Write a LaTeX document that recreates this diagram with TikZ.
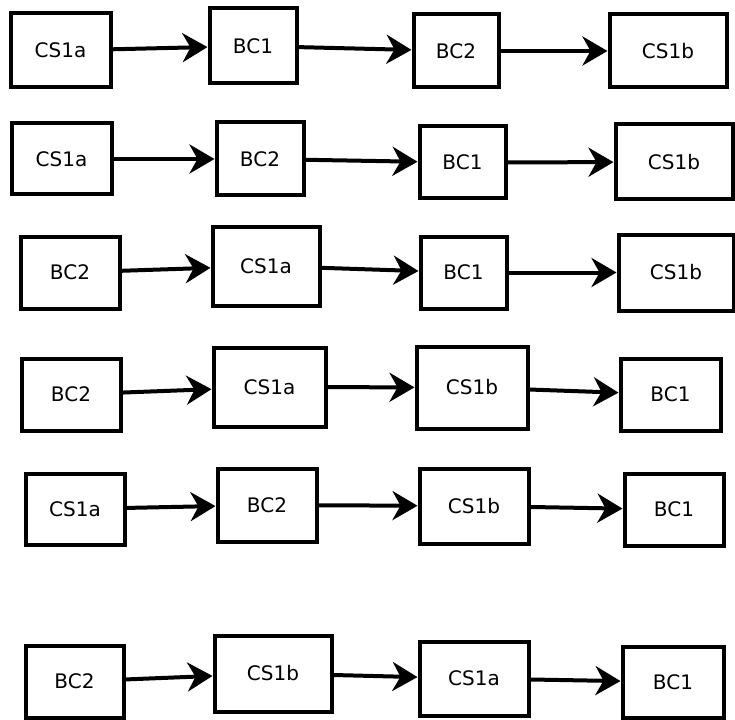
\documentclass[tikz,border=0pt]{standalone}
\usepackage{fontspec}
\setmainfont{DejaVu Sans}
\usetikzlibrary{arrows.meta}

\begin{document}
\begin{tikzpicture}[x=1pt,y=-1pt]
\tikzstyle{every node}+=[font=\fontsize{20}{24}\selectfont]
\tikzstyle{blk}=[draw=black, line width=4pt, fill=white, inner sep=0pt]
\tikzstyle{arr}=[line width=4pt, -{Stealth[length=25pt,width=29pt,inset=8pt]}]
\useasboundingbox (0,0) rectangle (735,719);
% row 1
\node [blk, minimum width=100, minimum height=74] (r1a) at (60.5,50.5) {CS1a};
\node [blk, minimum width=87, minimum height=75] (r1b) at (253,46) {BC1};
\node [blk, minimum width=85, minimum height=73] (r1c) at (456,51) {BC2};
\node [blk, minimum width=117, minimum height=73] (r1d) at (668,51) {CS1b};
\draw [arr] (r1a) -- (r1b);
\draw [arr] (r1b) -- (r1c);
\draw [arr] (r1c) -- (r1d);
% row 2
\node [blk, minimum width=100, minimum height=71] (r2a) at (61.5,159) {CS1a};
\node [blk, minimum width=87, minimum height=73] (r2b) at (260,159) {BC2};
\node [blk, minimum width=86, minimum height=72] (r2c) at (462.5,162.5) {BC1};
\node [blk, minimum width=117, minimum height=75] (r2d) at (674,162) {CS1b};
\draw [arr] (r2a) -- (r2b);
\draw [arr] (r2b) -- (r2c);
\draw [arr] (r2c) -- (r2d);
% row 3
\node [blk, minimum width=99, minimum height=72] (r3a) at (70,272.5) {BC2};
\node [blk, minimum width=107, minimum height=79] (r3b) at (266,266) {CS1a};
\node [blk, minimum width=86, minimum height=72] (r3c) at (463.5,272.5) {BC1};
\node [blk, minimum width=115, minimum height=76] (r3d) at (676,272.5) {CS1b};
\draw [arr] (r3a) -- (r3b);
\draw [arr] (r3b) -- (r3c);
\draw [arr] (r3c) -- (r3d);
% row 4
\node [blk, minimum width=99, minimum height=72] (r4a) at (71,394.5) {BC2};
\node [blk, minimum width=112, minimum height=79] (r4b) at (269.5,387) {CS1a};
\node [blk, minimum width=111, minimum height=82] (r4c) at (472,387.5) {CS1b};
\node [blk, minimum width=100, minimum height=72] (r4d) at (670.5,394.5) {BC1};
\draw [arr] (r4a) -- (r4b);
\draw [arr] (r4b) -- (r4c);
\draw [arr] (r4c) -- (r4d);
% row 5
\node [blk, minimum width=99, minimum height=71] (r5a) at (75,509) {CS1a};
\node [blk, minimum width=99, minimum height=73] (r5b) at (267,505) {BC2};
\node [blk, minimum width=109, minimum height=75] (r5c) at (474,506) {CS1b};
\node [blk, minimum width=99, minimum height=72] (r5d) at (674,509.5) {BC1};
\draw [arr] (r5a) -- (r5b);
\draw [arr] (r5b) -- (r5c);
\draw [arr] (r5c) -- (r5d);
% row 6
\node [blk, minimum width=98, minimum height=72] (r6a) at (74.5,681.5) {BC2};
\node [blk, minimum width=117, minimum height=76] (r6b) at (273,673.5) {CS1b};
\node [blk, minimum width=109, minimum height=74] (r6c) at (474,678.5) {CS1a};
\node [blk, minimum width=101, minimum height=71] (r6d) at (673,682) {BC1};
\draw [arr] (r6a) -- (r6b);
\draw [arr] (r6b) -- (r6c);
\draw [arr] (r6c) -- (r6d);
\end{tikzpicture}
\end{document}
